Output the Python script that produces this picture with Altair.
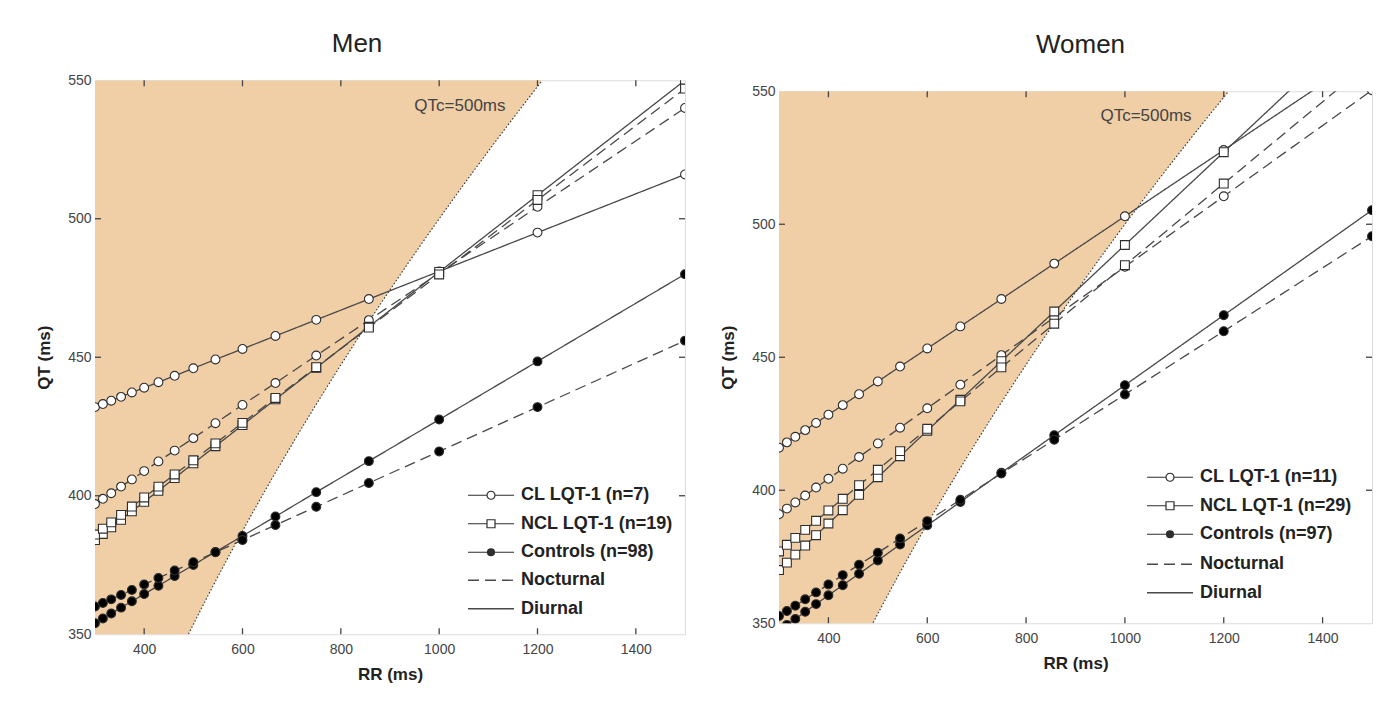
import altair as alt
import pandas as pd
import numpy as np

# ---------------- data ----------------
RR = [300, 316, 333, 353, 375, 400, 429, 462, 500, 545, 600, 667, 750, 857, 1000, 1200, 1500]

men_cl_diurnal = [432.0, 433.1, 434.3, 435.7, 437.3, 439.0, 441.0, 443.3, 446.0, 449.2, 453.0, 457.7, 463.5, 471.0, 481.0, 495.0, 516.0]
men_cl_nocturnal = [397.0, 398.9, 400.9, 403.3, 405.9, 408.9, 412.4, 416.3, 420.8, 426.2, 432.8, 440.7, 450.6, 463.4, 480.4, 504.3, 540.0]
men_ncl_diurnal = [384.0, 386.2, 388.6, 391.3, 394.4, 397.8, 401.8, 406.4, 411.7, 417.9, 425.5, 434.8, 446.2, 461.0, 480.8, 508.5, 550.0]
men_ncl_nocturnal = [386.0, 388.1, 390.4, 393.1, 396.1, 399.4, 403.3, 407.7, 412.8, 418.9, 426.3, 435.3, 446.4, 460.7, 479.9, 506.8, 547.0]
men_ctl_diurnal = [354.0, 355.7, 357.5, 359.6, 361.9, 364.5, 367.5, 371.0, 375.0, 379.7, 385.5, 392.5, 401.3, 412.5, 427.5, 448.5, 480.0]
men_ctl_nocturnal = [360.0, 361.3, 362.6, 364.2, 366.0, 368.0, 370.3, 373.0, 376.0, 379.6, 384.0, 389.4, 396.0, 404.6, 416.0, 432.0, 456.0]

women_cl_diurnal = [416.0, 418.0, 420.1, 422.6, 425.3, 428.4, 432.0, 436.1, 440.9, 446.5, 453.3, 461.6, 471.9, 485.2, 503.0, 527.9, 565.2]
women_cl_nocturnal = [391.0, 393.1, 395.4, 398.0, 401.0, 404.3, 408.1, 412.5, 417.6, 423.5, 430.8, 439.7, 450.8, 465.0, 484.0, 510.5, 550.4]
women_ncl_diurnal = [370.0, 372.8, 375.8, 379.2, 383.1, 387.5, 392.5, 398.3, 404.9, 412.8, 422.4, 434.0, 448.5, 467.2, 492.2, 527.1, 579.4]
women_ncl_nocturnal = [377.0, 379.5, 382.1, 385.1, 388.5, 392.4, 396.8, 401.9, 407.7, 414.7, 423.1, 433.4, 446.2, 462.6, 484.6, 515.3, 561.4]
women_ctl_diurnal = [347.3, 349.4, 351.6, 354.3, 357.2, 360.5, 364.3, 368.6, 373.6, 379.6, 386.8, 395.6, 406.6, 420.7, 439.5, 465.8, 505.3]
women_ctl_nocturnal = [352.7, 354.6, 356.6, 359.0, 361.6, 364.6, 368.1, 372.0, 376.5, 381.9, 388.4, 396.4, 406.3, 419.0, 436.0, 459.8, 495.5]

men_groups = ["CL LQT-1 (n=7)", "NCL LQT-1 (n=19)", "Controls  (n=98)"]
women_groups = ["CL LQT-1 (n=11)", "NCL LQT-1 (n=29)", "Controls (n=97)"]
periods = ["Nocturnal", "Diurnal"]

x_ticks = [400, 600, 800, 1000, 1200, 1400]
y_ticks = [350, 400, 450, 500, 550]
inner_y_ticks = [400, 450, 500]

QTC_LIMIT = 500  # QTc = 500 ms (Bazett) boundary

# ---------------- styling ----------------
FONT = "Liberation Sans"
LINE = "#484848"
MARK = "#2e2e2e"
SHADE = "#F0CEA6"
X_DOM = [300, 1500]
Y_DOM = [350, 550]


def ring(r):
    return f"M{-r},0A{r},{r} 0 1,1 {r},0A{r},{r} 0 1,1 {-r},0Z"


# legend glyphs (path units: 1 unit = 5 px at symbolSize 100)
P_CIRCLE = "M-4.6,0H-0.8M0.8,0H4.6" + ring(0.8)
P_SQUARE = "M-4.6,0H-0.8M0.8,0H4.6M-0.8,-0.8H0.8V0.8H-0.8Z"
P_DOT = "M-4.6,0H-0.7M0.7,0H4.6" + ring(0.7) + ring(0.5) + ring(0.3) + ring(0.12)
P_LINE = "M-4.6,0H4.6"


def long_df(groups, series):
    rows = []
    keys = [(groups[0], "Diurnal"), (groups[0], "Nocturnal"),
            (groups[1], "Diurnal"), (groups[1], "Nocturnal"),
            (groups[2], "Diurnal"), (groups[2], "Nocturnal")]
    for (g, p), vals in zip(keys, series):
        for r, q in zip(RR, vals):
            rows.append({"RR": r, "QT": q, "group": g, "period": p, "series": g + "|" + p})
    return pd.DataFrame(rows)


def panel(title, groups, series, width, height, title_dx, title_offset, leg_x, leg_y, dash_gap):
    df = long_df(groups, series)
    xs = alt.Scale(domain=X_DOM, nice=False, zero=False)
    ys = alt.Scale(domain=Y_DOM, nice=False, zero=False)

    rr_grid = np.arange(300, 1212, 4.0)
    curve = pd.DataFrame({"RR": rr_grid, "QT": QTC_LIMIT * np.sqrt(rr_grid / 1000.0)})
    curve = curve[curve.QT <= 550.5]

    x_enc = alt.X("RR:Q", scale=xs, axis=alt.Axis(values=x_ticks, format="d", ticks=False, domain=False, grid=False,
                                                   labelFontSize=14, labelColor="#444", labelFont=FONT,
                                                   labelPadding=8, title="RR (ms)", titleFontSize=17,
                                                   titleFontWeight="bold", titleColor="#222", titleFont=FONT,
                                                   titlePadding=10))
    y_enc = alt.Y("QT:Q", scale=ys, axis=alt.Axis(values=y_ticks, format="d", ticks=False, domain=False, grid=False,
                                                   labelFontSize=14, labelColor="#444", labelFont=FONT,
                                                   labelPadding=4, title="QT (ms)", titleFontSize=17,
                                                   titleFontWeight="bold", titleColor="#222", titleFont=FONT,
                                                   titlePadding=14))

    shade = alt.Chart(curve).mark_area(color=SHADE, opacity=1, clip=True).encode(
        x=x_enc, y=y_enc, y2=alt.Y2(datum=550))
    bound = alt.Chart(curve).mark_line(color="#333", strokeWidth=1.1, strokeDash=[1.5, 2], clip=True).encode(
        x="RR:Q", y="QT:Q")

    leg_common = dict(title=None, orient="none", symbolSize=100, labelFontSize=18, labelFont=FONT,
                      labelFontWeight="bold", labelColor="#222", labelOffset=21, rowPadding=10.5)

    lines = alt.Chart(df).mark_line(color=LINE, strokeWidth=1.3, clip=True).encode(
        x="RR:Q", y="QT:Q", detail="series:N",
        strokeDash=alt.StrokeDash("period:N", scale=alt.Scale(domain=periods, range=[[11, 6], [1, 0]]),
                                  legend=alt.Legend(legendX=leg_x, legendY=leg_y + dash_gap, symbolType=P_LINE,
                                                    symbolStrokeColor=LINE, symbolStrokeWidth=1.3, **leg_common)))

    points = alt.Chart(df).mark_point(filled=True, stroke=MARK, strokeWidth=1.1, size=78, clip=True, opacity=1).encode(
        x="RR:Q", y="QT:Q",
        shape=alt.Shape("group:N", scale=alt.Scale(domain=groups, range=["circle", "square", "circle"]), legend=None),
        fill=alt.Fill("group:N", scale=alt.Scale(domain=groups, range=["white", "white", "black"]), legend=None))

    legend_layer = alt.Chart(df).mark_point(filled=False, color=MARK, strokeWidth=1.2, size=100, opacity=1).encode(
        x="RR:Q", y="QT:Q",
        shape=alt.Shape("group:N", scale=alt.Scale(domain=groups, range=[P_CIRCLE, P_SQUARE, P_DOT]),
                        legend=alt.Legend(legendX=leg_x, legendY=leg_y, symbolStrokeColor=MARK,
                                          symbolStrokeWidth=1.2, **leg_common))
    ).transform_filter("datum.RR < 0")

    tly = 6 * (Y_DOM[1] - Y_DOM[0]) / height
    tlx = 6 * (X_DOM[1] - X_DOM[0]) / width
    xt = pd.DataFrame({"RR": x_ticks})
    yt = pd.DataFrame({"QT": inner_y_ticks})
    tick_style = dict(color="#444", strokeWidth=1.3)
    t_bottom = alt.Chart(xt).mark_rule(**tick_style).encode(x="RR:Q", y=alt.datum(Y_DOM[0]), y2=alt.datum(Y_DOM[0] + tly))
    t_top = alt.Chart(xt).mark_rule(**tick_style).encode(x="RR:Q", y=alt.datum(Y_DOM[1]), y2=alt.datum(Y_DOM[1] - tly))
    t_left = alt.Chart(yt).mark_rule(**tick_style).encode(y="QT:Q", x=alt.datum(X_DOM[0]), x2=alt.datum(X_DOM[0] + tlx))
    t_right = alt.Chart(yt).mark_rule(**tick_style).encode(y="QT:Q", x=alt.datum(X_DOM[1]), x2=alt.datum(X_DOM[1] - tlx))

    label = alt.Chart(pd.DataFrame({"t": ["QTc=500ms"]})).mark_text(
        align="right", baseline="alphabetic", fontSize=17, font=FONT, color="#444").encode(
        x=alt.datum(1135), y=alt.datum(539), text="t:N")

    ch = alt.layer(shade, bound, lines, points, t_bottom, t_top, t_left, t_right, label, legend_layer).resolve_scale(
        shape="independent", fill="independent").properties(
        width=width, height=height,
        title=alt.TitleParams(title, fontSize=26, fontWeight="normal", font=FONT, color="#222",
                              dx=title_dx, offset=title_offset, anchor="middle"))
    return ch


men = panel("Men", men_groups,
            [men_cl_diurnal, men_cl_nocturnal, men_ncl_diurnal, men_ncl_nocturnal, men_ctl_diurnal, men_ctl_nocturnal],
            590, 554, -33, 16, 387, 406, 85)
women = panel("Women", women_groups,
              [women_cl_diurnal, women_cl_nocturnal, women_ncl_diurnal, women_ncl_nocturnal, women_ctl_diurnal, women_ctl_nocturnal],
              593, 532, 5, 26, 382, 377, 87)

chart = alt.hconcat(men, women, spacing=32, center=True).resolve_scale(
    strokeDash="independent", shape="independent", fill="independent").properties(
    padding={"left": 27, "top": 22, "right": 5, "bottom": 5}
).configure_view(stroke="#444", strokeWidth=1.6).configure(background="white")

chart.save("out.html", embed_options={"renderer": "svg", "actions": False})
